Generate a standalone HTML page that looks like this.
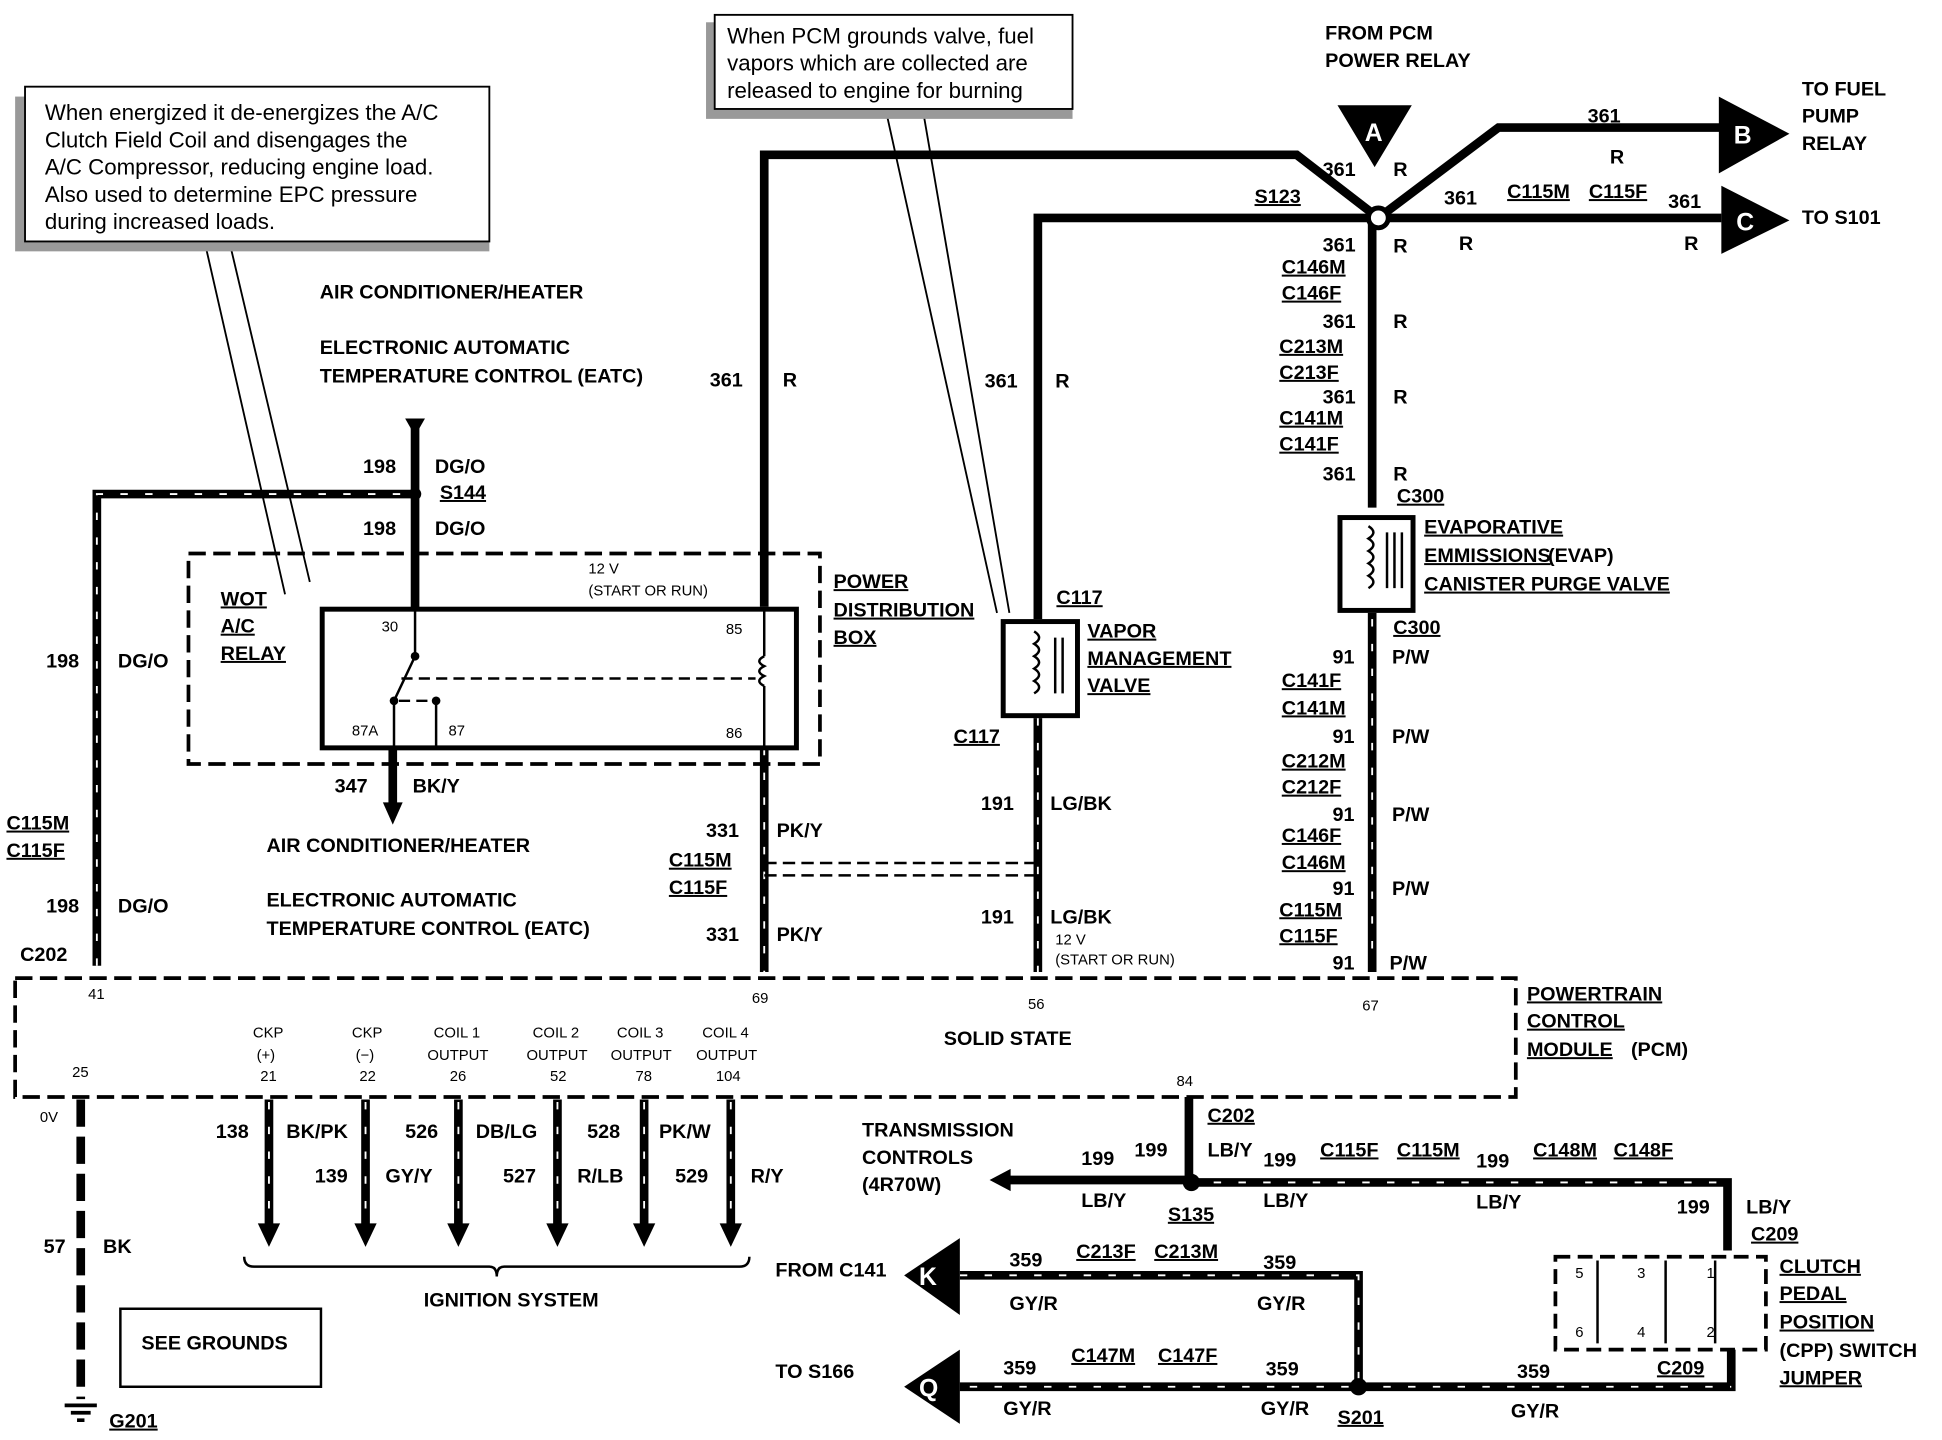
<!DOCTYPE html>
<html><head><style>body{margin:0;background:#fff}svg{display:block}text{font-family:"Liberation Sans",sans-serif;font-weight:bold;font-size:16px;fill:#000}.n{font-weight:normal;font-size:18px}.s{font-size:12px;font-weight:normal}.u{text-decoration:underline}</style></head><body>
<svg width="1942" height="1440" viewBox="0 0 1568 1163" xmlns="http://www.w3.org/2000/svg">
<g fill="none" stroke="#000" stroke-width="7">
<path d="M617,490 V125 H1047 L1113,176"/>
<path d="M838,500 V176 H1113"/>
<path d="M1113,176 L1210,103 H1390"/>
<path d="M1113,176 H1390"/>
<path d="M1108,176 V410"/>
<path d="M1108,495 V785"/>
<path d="M78,780 V399 H335"/>
<path d="M335,345 V492"/>
<path d="M617,604 V785"/>
<path d="M838,580 V785"/>
<path d="M65,888 V1130" stroke-dasharray="22,8"/>
<path d="M960,886 V955 H1395 V1010"/>
<path d="M960,953 H812"/>
<path d="M775,1030 H1097 V1120 H775"/>
<path d="M1097,1120 H1398 V1090"/>
<path d="M217,888 V992 M295,888 V992 M370,888 V992 M450,888 V992 M520,888 V992 M590,888 V992 M317,604 V652"/>
</g>
<g fill="none" stroke="#fff" stroke-width="1.5" stroke-dasharray="6,14">
<path d="M78,780 V399 H330"/><path d="M617,604 V785"/><path d="M838,580 V785"/><path d="M960,955 H1395"/><path d="M775,1030 H1097 V1120 H775"/><path d="M1097,1120 H1398"/><path d="M217,890 V985"/><path d="M295,890 V985"/><path d="M370,890 V985"/><path d="M450,890 V985"/><path d="M520,890 V985"/><path d="M590,890 V985"/><path d="M1108,500 V780"/>
</g>
<g fill="#000">
<path d="M208,988 H226 L217,1007z"/><path d="M286,988 H304 L295,1007z"/><path d="M361,988 H379 L370,1007z"/><path d="M441,988 H459 L450,1007z"/><path d="M511,988 H529 L520,1007z"/><path d="M581,988 H599 L590,1007z"/><path d="M309,648 H325 L317,666z"/>
<path d="M816,944 V962 L799,953z"/>
<path d="M1080,85 H1140 L1110,135z"/><path d="M1388,78 V140 L1445,108z"/><path d="M1390,150 V205 L1445,178z"/>
<path d="M730,1030 L775,1000 V1062z"/><path d="M730,1120 L775,1090 V1150z"/>
<path d="M327,338 H343 L335,352z"/>
<circle cx="1113" cy="176" r="8" fill="#fff" stroke="#000" stroke-width="4"/>
<circle cx="335" cy="399" r="5"/><circle cx="962" cy="955" r="7"/><circle cx="1097" cy="1120" r="7"/>
<circle cx="335" cy="530" r="3.5"/><circle cx="318" cy="566" r="3.5"/><circle cx="352" cy="566" r="3.5"/>
</g>
<text x="1102" y="114" style="fill:#fff;font-size:20px">A</text><text x="1400" y="116" style="fill:#fff;font-size:20px">B</text><text x="1402" y="186" style="fill:#fff;font-size:20px">C</text><text x="742" y="1038" style="fill:#fff;font-size:20px">K</text><text x="742" y="1128" style="fill:#fff;font-size:20px">Q</text>
<g fill="none" stroke="#000">
<rect x="12" y="790" width="1212" height="96" stroke-width="3" stroke-dasharray="14,6"/>
<rect x="152" y="447" width="510" height="170" stroke-width="3" stroke-dasharray="14,6"/>
<rect x="260" y="492" width="383" height="112" stroke-width="4"/>
<rect x="1256" y="1015" width="170" height="75" stroke-width="3" stroke-dasharray="12,6"/>
<rect x="1082" y="418" width="59" height="75" stroke-width="4"/>
<rect x="810" y="502" width="60" height="76" stroke-width="4"/>
<rect x="97" y="1057" width="162" height="63" stroke-width="2"/>
<path d="M335,492 V530 L318,566 M318,566 V604 M352,566 V604 M617,492 V530 M617,554 V604" stroke-width="2"/>
<path d="M324,548 H610 M322,566 H348" stroke-width="2" stroke-dasharray="9,5"/>
<path d="M617,530 q-8,4 0,8 q-8,4 0,8 q-8,4 0,8" stroke-width="2"/>
<path d="M197,1015 q0,8 8,8 H395 q6,0 6,8 q0,-8 6,-8 H597 q8,0 8,-8" stroke-width="2"/>
<path d="M1290,1018 V1085 M1345,1018 V1085 M1385,1018 V1085" stroke-width="2"/>
<path d="M617,697 H838 M617,707 H838" stroke-width="2" stroke-dasharray="10,5"/>
<path d="M250,470 L185,195 M230,480 L165,195 M805,495 L715,88 M815,495 L745,88" stroke-width="1.5"/>
<path d="M1105,425 q8,5 0,10 q8,5 0,10 q8,5 0,10 q8,5 0,10 q8,5 0,10 M1120,430 V475 M1126,430 V475 M1132,430 V475" stroke-width="2"/>
<path d="M835,510 q8,5 0,10 q8,5 0,10 q8,5 0,10 q8,5 0,10 q8,5 0,10 M852,515 V560 M858,515 V560" stroke-width="2"/>
<path d="M52,1135 H78 M57,1141 H73 M62,1147 H68" stroke-width="3"/>
</g>
<rect x="12" y="78" width="383" height="125" fill="#999"/>
<rect x="20" y="70" width="375" height="125" fill="#fff" stroke="#000" stroke-width="1.5"/>
<rect x="570" y="18" width="296" height="78" fill="#999"/>
<rect x="577" y="12" width="289" height="76" fill="#fff" stroke="#000" stroke-width="1.5"/>
<text class="n" x="36" y="97">When energized it de-energizes the A/C</text>
<text class="n" x="36" y="119">Clutch Field Coil and disengages the</text>
<text class="n" x="36" y="141">A/C Compressor, reducing engine load.</text>
<text class="n" x="36" y="163">Also used to determine EPC pressure</text>
<text class="n" x="36" y="185">during increased loads.</text>
<text class="n" x="587" y="35">When PCM grounds valve, fuel</text>
<text class="n" x="587" y="57">vapors which are collected are</text>
<text class="n" x="587" y="79">released to engine for burning</text>
<text x="1070" y="32">FROM PCM</text><text x="1070" y="54">POWER RELAY</text>
<text x="1455" y="77">TO FUEL</text><text x="1455" y="99">PUMP</text><text x="1455" y="121">RELAY</text><text x="1455" y="181">TO S101</text>
<text x="1282" y="99">361</text><text x="1300" y="132">R</text>
<text x="1068" y="142">361</text><text x="1125" y="142">R</text>
<text class="u" x="1013" y="164">S123</text>
<text x="1166" y="165">361</text><text class="u" x="1217" y="160">C115M</text><text class="u" x="1283" y="160">C115F</text><text x="1347" y="168">361</text>
<text x="1178" y="202">R</text><text x="1360" y="202">R</text>
<text x="1068" y="203">361</text><text x="1125" y="204">R</text>
<text class="u" x="1035" y="221">C146M</text><text class="u" x="1035" y="242">C146F</text>
<text x="1068" y="265">361</text><text x="1125" y="265">R</text>
<text class="u" x="1033" y="285">C213M</text><text class="u" x="1033" y="306">C213F</text>
<text x="1068" y="326">361</text><text x="1125" y="326">R</text>
<text class="u" x="1033" y="343">C141M</text><text class="u" x="1033" y="364">C141F</text>
<text x="1068" y="388">361</text><text x="1125" y="388">R</text><text class="u" x="1128" y="406">C300</text>
<text class="u" x="1150" y="431">EVAPORATIVE</text><text class="u" x="1150" y="454">EMMISSIONS</text><text x="1250" y="454">(EVAP)</text><text class="u" x="1150" y="477">CANISTER PURGE VALVE</text>
<text class="u" x="1125" y="512">C300</text>
<text x="1076" y="536">91</text><text x="1124" y="536">P/W</text>
<text class="u" x="1035" y="555">C141F</text><text class="u" x="1035" y="577">C141M</text>
<text x="1076" y="600">91</text><text x="1124" y="600">P/W</text>
<text class="u" x="1035" y="620">C212M</text><text class="u" x="1035" y="641">C212F</text>
<text x="1076" y="663">91</text><text x="1124" y="663">P/W</text>
<text class="u" x="1035" y="680">C146F</text><text class="u" x="1035" y="702">C146M</text>
<text x="1076" y="723">91</text><text x="1124" y="723">P/W</text>
<text class="u" x="1033" y="740">C115M</text><text class="u" x="1033" y="761">C115F</text>
<text x="1076" y="783">91</text><text x="1122" y="783">P/W</text>
<text x="258" y="241">AIR CONDITIONER/HEATER</text>
<text x="258" y="286">ELECTRONIC AUTOMATIC</text><text x="258" y="309">TEMPERATURE CONTROL (EATC)</text>
<text x="573" y="312">361</text><text x="632" y="312">R</text>
<text x="795" y="313">361</text><text x="852" y="313">R</text>
<text x="293" y="382">198</text><text x="351" y="382">DG/O</text><text class="u" x="355" y="403">S144</text>
<text x="293" y="432">198</text><text x="351" y="432">DG/O</text>
<text class="u" x="178" y="489">WOT</text><text class="u" x="178" y="511">A/C</text><text class="u" x="178" y="533">RELAY</text>
<text class="s" x="475" y="463">12 V</text><text class="s" x="475" y="481">(START OR RUN)</text>
<text class="s" x="308" y="510">30</text><text class="s" x="586" y="512">85</text><text class="s" x="284" y="594">87A</text><text class="s" x="362" y="594">87</text><text class="s" x="586" y="596">86</text>
<text class="u" x="673" y="475">POWER</text><text class="u" x="673" y="498">DISTRIBUTION</text><text class="u" x="673" y="520">BOX</text>
<text class="u" x="853" y="488">C117</text>
<text class="u" x="878" y="515">VAPOR</text><text class="u" x="878" y="537">MANAGEMENT</text><text class="u" x="878" y="559">VALVE</text>
<text class="u" x="770" y="600">C117</text>
<text x="37" y="539">198</text><text x="95" y="539">DG/O</text>
<text x="270" y="640">347</text><text x="333" y="640">BK/Y</text>
<text x="215" y="688">AIR CONDITIONER/HEATER</text>
<text x="215" y="732">ELECTRONIC AUTOMATIC</text><text x="215" y="755">TEMPERATURE CONTROL (EATC)</text>
<text x="570" y="676">331</text><text x="627" y="676">PK/Y</text>
<text class="u" x="540" y="700">C115M</text><text class="u" x="540" y="722">C115F</text>
<text x="570" y="760">331</text><text x="627" y="760">PK/Y</text>
<text x="792" y="654">191</text><text x="848" y="654">LG/BK</text>
<text x="792" y="746">191</text><text x="848" y="746">LG/BK</text>
<text class="s" x="852" y="763">12 V</text><text class="s" x="852" y="779">(START OR RUN)</text>
<text class="u" x="5" y="670">C115M</text><text class="u" x="5" y="692">C115F</text>
<text x="37" y="737">198</text><text x="95" y="737">DG/O</text>
<text x="16" y="776">C202</text>
<text class="s" x="71" y="807">41</text><text class="s" x="607" y="810">69</text><text class="s" x="830" y="815">56</text><text class="s" x="1100" y="816">67</text>
<text class="u" x="1233" y="808">POWERTRAIN</text><text class="u" x="1233" y="830">CONTROL</text><text class="u" x="1233" y="853">MODULE</text><text x="1317" y="853">(PCM)</text>
<text x="762" y="844">SOLID STATE</text>
<text class="s" x="204" y="838">CKP</text><text class="s" x="207" y="856">(+)</text><text class="s" x="284" y="838">CKP</text><text class="s" x="287" y="856">(−)</text>
<text class="s" x="350" y="838">COIL 1</text><text class="s" x="345" y="856">OUTPUT</text><text class="s" x="430" y="838">COIL 2</text><text class="s" x="425" y="856">OUTPUT</text>
<text class="s" x="498" y="838">COIL 3</text><text class="s" x="493" y="856">OUTPUT</text><text class="s" x="567" y="838">COIL 4</text><text class="s" x="562" y="856">OUTPUT</text>
<text class="s" x="58" y="870">25</text><text class="s" x="210" y="873">21</text><text class="s" x="290" y="873">22</text><text class="s" x="363" y="873">26</text><text class="s" x="444" y="873">52</text><text class="s" x="513" y="873">78</text><text class="s" x="578" y="873">104</text><text class="s" x="950" y="877">84</text>
<text class="s" x="32" y="906">0V</text>
<text x="174" y="919">138</text><text x="231" y="919">BK/PK</text><text x="327" y="919">526</text><text x="384" y="919">DB/LG</text><text x="474" y="919">528</text><text x="532" y="919">PK/W</text>
<text x="254" y="955">139</text><text x="311" y="955">GY/Y</text><text x="406" y="955">527</text><text x="466" y="955">R/LB</text><text x="545" y="955">529</text><text x="606" y="955">R/Y</text>
<text x="342" y="1055">IGNITION SYSTEM</text>
<text x="35" y="1012">57</text><text x="83" y="1012">BK</text>
<text x="114" y="1090">SEE GROUNDS</text>
<text class="u" x="88" y="1153">G201</text>
<text class="u" x="975" y="906">C202</text>
<text x="696" y="918">TRANSMISSION</text><text x="696" y="940">CONTROLS</text><text x="696" y="962">(4R70W)</text>
<text x="873" y="941">199</text><text x="916" y="934">199</text><text x="975" y="934">LB/Y</text><text x="1020" y="942">199</text>
<text class="u" x="1066" y="934">C115F</text><text class="u" x="1128" y="934">C115M</text><text x="1192" y="943">199</text><text class="u" x="1238" y="934">C148M</text><text class="u" x="1303" y="934">C148F</text>
<text x="873" y="975">LB/Y</text><text class="u" x="943" y="986">S135</text><text x="1020" y="975">LB/Y</text><text x="1192" y="976">LB/Y</text>
<text x="1354" y="980">199</text><text x="1410" y="980">LB/Y</text><text class="u" x="1414" y="1002">C209</text>
<text class="u" x="1437" y="1028">CLUTCH</text><text class="u" x="1437" y="1050">PEDAL</text><text class="u" x="1437" y="1073">POSITION</text><text x="1437" y="1096">(CPP) SWITCH</text><text class="u" x="1437" y="1118">JUMPER</text>
<text class="s" x="1272" y="1032">5</text><text class="s" x="1322" y="1032">3</text><text class="s" x="1378" y="1032">1</text><text class="s" x="1272" y="1080">6</text><text class="s" x="1322" y="1080">4</text><text class="s" x="1378" y="1080">2</text>
<text class="u" x="1338" y="1110">C209</text>
<text x="626" y="1031">FROM C141</text><text x="626" y="1113">TO S166</text>
<text x="815" y="1023">359</text><text class="u" x="869" y="1016">C213F</text><text class="u" x="932" y="1016">C213M</text><text x="1020" y="1025">359</text>
<text x="815" y="1058">GY/R</text><text x="1015" y="1058">GY/R</text>
<text x="810" y="1110">359</text><text class="u" x="865" y="1100">C147M</text><text class="u" x="935" y="1100">C147F</text><text x="1022" y="1111">359</text><text x="1225" y="1113">359</text>
<text x="810" y="1143">GY/R</text><text x="1018" y="1143">GY/R</text><text x="1220" y="1145">GY/R</text><text class="u" x="1080" y="1150">S201</text>
</svg>
</body></html>
